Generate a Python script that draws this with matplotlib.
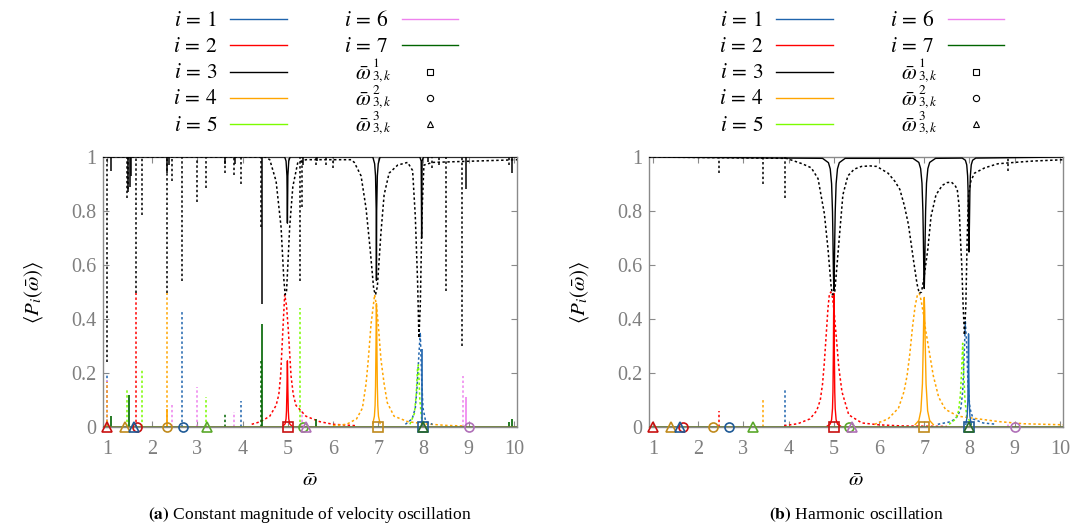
import matplotlib
matplotlib.use("Agg")
import matplotlib.pyplot as plt
from matplotlib.lines import Line2D

plt.rcParams['font.family'] = ['Liberation Serif', 'DejaVu Serif']
plt.rcParams['mathtext.fontset'] = 'stix'

W, H = 1086, 527

# mode colours, i = 1..7
MODE_COLORS = {1: '#1f64ad', 2: '#ff0000', 3: '#000000', 4: '#ffa500',
               5: '#7cfc00', 6: '#ee82ee', 7: '#006400'}
MARKER_COLORS = {1: '#1f5a96', 2: '#c81010', 4: '#c08a1c',
                 5: '#5aa82a', 6: '#b070b8', 7: '#2a6a2a'}

# analytic frequencies (same in both panels)
SQ_X = [5.0, 7.0, 8.0]
SQ_I = [2, 4, 1]
CI_X = [1.67, 2.33, 2.67, 5.33, 9.0]
CI_I = [2, 4, 1, 5, 6]
TR_X = [1.0, 1.4, 1.6, 3.2, 5.4, 8.0]
TR_I = [2, 4, 1, 5, 6, 7]

# ---------------- panel (a): constant magnitude ----------------
A_DIP3_SOLID_X = [1.08, 1.47, 1.50, 1.53, 2.32, 2.38, 3.62, 3.82, 4.43, 5.33, 5.65, 8.10, 8.94, 9.96]
A_DIP3_SOLID_Y = [0.95, 0.87, 0.89, 0.93, 0.94, 0.97, 0.975, 0.975, 0.457, 0.97, 0.985, 0.98, 0.88, 0.94]

A_DIP3_DOT_X = [1.00, 1.44, 1.47, 1.64, 1.77, 2.32, 2.43, 2.65, 2.98, 3.18, 3.60, 3.81,
                3.96, 4.40, 5.27, 5.32, 5.63, 5.85, 6.00, 8.20, 8.35, 8.50, 8.86, 9.90]
A_DIP3_DOT_Y = [0.24, 0.85, 0.88, 0.495, 0.785, 0.495, 0.91, 0.54, 0.835, 0.885, 0.94, 0.935,
                0.90, 0.74, 0.54, 0.815, 0.97, 0.97, 0.96, 0.96, 0.97, 0.505, 0.30, 0.97]

A_SOL3_X = [0.9, 4.93, 4.96, 4.98, 4.99, 5.00, 5.02, 5.05, 6.88, 6.92, 6.94, 6.955, 6.96,
            6.965, 6.98, 7.00, 7.04, 7.92, 7.95, 7.96, 7.97, 8.00, 10.1]
A_SOL3_Y = [1, 1, 0.985, 0.93, 0.755, 0.93, 0.985, 1, 1, 0.975, 0.93, 0.80, 0.543,
            0.80, 0.93, 0.975, 1, 1, 0.985, 0.70, 0.985, 1, 1]

A_DOT3_X = [0.9, 4.50, 4.60, 4.74, 4.85, 4.91, 4.94, 4.97, 5.00, 5.04, 5.11, 5.22, 5.40,
            6.40, 6.47, 6.62, 6.73, 6.82, 6.90, 6.94, 6.98, 7.06, 7.13, 7.24, 7.43, 7.65,
            7.76, 7.82, 7.87, 7.90, 7.93, 7.97, 8.01, 8.20, 10.1]
A_DOT3_Y = [1.0, 1.0, 0.99, 0.91, 0.74, 0.55, 0.49, 0.50, 0.60, 0.74, 0.89, 0.98, 0.99,
            0.99, 0.98, 0.93, 0.81, 0.66, 0.51, 0.49, 0.52, 0.72, 0.86, 0.94, 0.97, 0.98,
            0.95, 0.78, 0.54, 0.33, 0.45, 0.80, 0.97, 0.98, 0.99]

A_DOT2_X = [4.20, 4.40, 4.60, 4.74, 4.80, 4.84, 4.89, 4.93, 4.97, 5.01, 5.07, 5.12, 5.18,
            5.40, 5.70, 6.00, 6.50]
A_DOT2_Y = [0.01, 0.02, 0.04, 0.08, 0.12, 0.19, 0.36, 0.49, 0.45, 0.36, 0.19, 0.12, 0.08,
            0.04, 0.02, 0.01, 0.005]
A_SOL2_X = [4.90, 4.94, 4.96, 4.97, 4.98, 4.985, 4.99, 4.995, 5.00, 5.01, 5.02, 5.04, 5.08]
A_SOL2_Y = [0.005, 0.012, 0.03, 0.06, 0.14, 0.20, 0.245, 0.20, 0.14, 0.06, 0.03, 0.012, 0.005]

A_DOT4_X = [6.00, 6.30, 6.52, 6.65, 6.73, 6.78, 6.84, 6.92, 6.96, 7.00, 7.06, 7.13, 7.20,
            7.35, 7.65, 8.00, 8.50, 9.00]
A_DOT4_Y = [0.005, 0.01, 0.03, 0.07, 0.16, 0.25, 0.38, 0.49, 0.45, 0.38, 0.25, 0.16, 0.09,
            0.04, 0.02, 0.012, 0.006, 0.003]
A_SOL4_X = [6.88, 6.915, 6.93, 6.94, 6.95, 6.955, 6.96, 6.965, 6.97, 6.98, 6.99, 7.005, 7.04]
A_SOL4_Y = [0.013, 0.04, 0.08, 0.15, 0.30, 0.40, 0.457, 0.40, 0.30, 0.15, 0.08, 0.04, 0.013]

A_DOT1_X = [7.60, 7.75, 7.82, 7.86, 7.90, 7.93, 7.96, 7.99, 8.05, 8.20]
A_DOT1_Y = [0.01, 0.03, 0.07, 0.15, 0.27, 0.35, 0.18, 0.07, 0.02, 0.01]
A_DOT5_X = [7.70, 7.80, 7.84, 7.87, 7.89, 7.92, 7.96, 8.05]
A_DOT5_Y = [0.01, 0.05, 0.12, 0.22, 0.23, 0.10, 0.03, 0.01]

A_SPIKE_DOT_X = [1.00, 1.00, 1.00, 1.44, 1.64, 1.77, 2.32, 2.43, 2.65, 2.98, 3.18, 3.60,
                 3.81, 3.96, 4.40, 5.27, 5.32, 8.88]
A_SPIKE_DOT_Y = [0.20, 0.18, 0.165, 0.14, 0.495, 0.215, 0.495, 0.09, 0.425, 0.15, 0.11, 0.05,
                 0.055, 0.097, 0.25, 0.44, 0.06, 0.19]
A_SPIKE_DOT_I = [1, 6, 4, 5, 2, 5, 4, 6, 1, 6, 5, 7, 6, 1, 7, 5, 6, 6]

A_SPIKE_SOL_X = [1.08, 1.48, 2.33, 4.43, 5.63, 7.96, 8.94, 9.90, 9.97]
A_SPIKE_SOL_Y = [0.04, 0.12, 0.067, 0.38, 0.03, 0.29, 0.11, 0.02, 0.03]
A_SPIKE_SOL_I = [7, 7, 4, 7, 7, 1, 6, 7, 7]

# ---------------- panel (b): harmonic ----------------
B_SOL3_X = [0.9, 4.75, 4.88, 4.92, 4.95, 4.97, 4.98, 4.99, 5.00, 5.01, 5.02, 5.03, 5.05, 5.08, 5.12, 5.25,
            6.75, 6.88, 6.92, 6.95, 6.97, 6.98, 6.99, 7.00, 7.01, 7.02, 7.03, 7.05, 7.08, 7.12, 7.25,
            7.84, 7.91, 7.94, 7.96, 7.97, 7.98, 7.99, 8.00, 8.01, 8.02, 8.04, 8.07, 8.14, 10.1]
B_SOL3_Y = [1.0, 0.995, 0.979, 0.956, 0.901, 0.797, 0.698, 0.573, 0.505, 0.573, 0.698, 0.797, 0.901, 0.956, 0.979, 0.995,
            0.995, 0.98, 0.957, 0.903, 0.80, 0.703, 0.58, 0.513, 0.58, 0.703, 0.80, 0.903, 0.957, 0.98, 0.995,
            0.996, 0.988, 0.971, 0.93, 0.873, 0.756, 0.648, 0.756, 0.873, 0.93, 0.971, 0.988, 0.996, 1.0]

B_DOT3_X = [0.9, 3.95, 4.30, 4.50, 4.65, 4.79, 4.87, 4.94, 4.97, 5.02, 5.08, 5.13, 5.20, 5.31,
            5.45, 5.61, 5.80, 5.95, 6.20, 6.35, 6.46, 6.56, 6.65, 6.76, 6.84, 6.89, 6.94, 7.00,
            7.08, 7.15, 7.26, 7.40, 7.50, 7.60, 7.68, 7.73, 7.77, 7.80, 7.83, 7.86, 7.89, 7.92,
            7.95, 7.98, 8.03, 8.11, 8.34, 8.63, 9.00, 9.40, 10.1]
B_DOT3_Y = [1.0, 0.995, 0.975, 0.96, 0.92, 0.79, 0.66, 0.52, 0.49, 0.50, 0.62, 0.72, 0.86, 0.93,
            0.955, 0.965, 0.967, 0.965, 0.94, 0.91, 0.88, 0.82, 0.75, 0.62, 0.53, 0.495, 0.50, 0.56,
            0.66, 0.78, 0.86, 0.895, 0.905, 0.907, 0.895, 0.88, 0.82, 0.70, 0.60, 0.45, 0.34, 0.45,
            0.70, 0.86, 0.91, 0.94, 0.96, 0.975, 0.98, 0.985, 0.99]
B_DIP3_DOT_X = [2.45, 3.43, 3.91, 8.86]
B_DIP3_DOT_Y = [0.94, 0.90, 0.85, 0.95]

B_DOT2_X = [3.90, 4.20, 4.47, 4.62, 4.70, 4.75, 4.79, 4.83, 4.87, 4.90, 4.93, 4.97, 5.01, 5.05,
            5.11, 5.18, 5.33, 5.62, 6.00, 6.50, 7.50]
B_DOT2_Y = [0.005, 0.012, 0.03, 0.06, 0.10, 0.16, 0.24, 0.34, 0.44, 0.49, 0.50, 0.48, 0.42, 0.34,
            0.22, 0.13, 0.045, 0.015, 0.008, 0.004, 0.002]
B_SOL2_X = [4.85, 4.92, 4.95, 4.97, 4.98, 4.99, 4.995, 5.00, 5.005, 5.01, 5.02, 5.03, 5.05, 5.08, 5.15]
B_SOL2_Y = [0.003, 0.011, 0.027, 0.068, 0.13, 0.29, 0.42, 0.495, 0.42, 0.29, 0.13, 0.068, 0.027, 0.011, 0.003]

B_DOT4_X = [5.90, 6.20, 6.43, 6.55, 6.62, 6.68, 6.74, 6.80, 6.85, 6.89, 6.93, 6.98, 7.03, 7.08,
            7.14, 7.20, 7.32, 7.47, 7.75, 8.20, 8.65, 9.20, 10.1]
B_DOT4_Y = [0.01, 0.03, 0.07, 0.13, 0.19, 0.27, 0.37, 0.45, 0.49, 0.495, 0.47, 0.42, 0.36, 0.31,
            0.25, 0.19, 0.11, 0.065, 0.04, 0.03, 0.02, 0.012, 0.008]
B_SOL4_X = [6.80, 6.88, 6.925, 6.96, 6.98, 6.99, 7.00, 7.01, 7.02, 7.04, 7.075, 7.12, 7.20]
B_SOL4_Y = [0.009, 0.024, 0.06, 0.16, 0.32, 0.43, 0.48, 0.43, 0.32, 0.16, 0.06, 0.024, 0.009]

B_DOT1_X = [7.30, 7.60, 7.74, 7.81, 7.85, 7.88, 7.91, 7.94, 7.97, 8.01, 8.08, 8.30, 8.60]
B_DOT1_Y = [0.01, 0.02, 0.04, 0.07, 0.13, 0.25, 0.39, 0.30, 0.15, 0.07, 0.03, 0.015, 0.01]
B_DOT5_X = [7.55, 7.70, 7.76, 7.80, 7.83, 7.85, 7.87, 7.90, 7.94, 8.05]
B_DOT5_Y = [0.01, 0.03, 0.06, 0.12, 0.22, 0.31, 0.22, 0.10, 0.04, 0.01]
B_SOL1_X = [7.92, 7.95, 7.965, 7.975, 7.98, 7.985, 7.995, 8.01, 8.04]
B_SOL1_Y = [0.01, 0.04, 0.10, 0.22, 0.345, 0.22, 0.10, 0.04, 0.01]

B_SPIKE_DOT_X = [2.45, 3.43, 3.91, 8.86]
B_SPIKE_DOT_Y = [0.06, 0.10, 0.14, 0.02]
B_SPIKE_DOT_I = [2, 4, 1, 6]

XTICKS = [1, 2, 3, 4, 5, 6, 7, 8, 9, 10]
YTICKS = [0, 0.2, 0.4, 0.6, 0.8, 1]
YTICKLABELS = ['0', '0.2', '0.4', '0.6', '0.8', '1']

DOT = (0, (1.6, 1.6))
GREY = '#8a8a8a'


def style_axes(ax):
    ax.set_xlim(0.91, 10.07)
    ax.set_ylim(0, 1)
    ax.set_xticks(XTICKS)
    ax.set_yticks(YTICKS)
    ax.set_yticklabels(YTICKLABELS)
    for s in ax.spines.values():
        s.set_color(GREY)
        s.set_linewidth(1.0)
    ax.tick_params(direction='in', top=True, right=True, length=4.5, width=0.8,
                   color=GREY, labelcolor='#7f7f7f', labelsize=14.5)
    ax.tick_params(axis='x', pad=9)
    ax.tick_params(axis='y', pad=5)
    ax.set_xlabel(r'$\bar{\omega}$', fontsize=15)
    ax.xaxis.set_label_coords(0.5, -0.165)
    ax.set_ylabel(r'$\langle P_i(\bar{\omega})\rangle$', fontsize=15)
    ax.yaxis.set_label_coords(-0.14, 0.5)


def spikes(ax, xs, ys, modes, ls, lw):
    for x, y, m in zip(xs, ys, modes):
        ax.vlines(x, 0, y, colors=MODE_COLORS[m], linestyles=[ls], lw=lw, zorder=2)


def markers(ax):
    for xs, modes, mk in ((SQ_X, SQ_I, 's'), (CI_X, CI_I, 'o'), (TR_X, TR_I, '^')):
        for x, m in zip(xs, modes):
            ax.plot([x], [0], marker=mk, ms=6.5, mfc='none', mec=MARKER_COLORS[m],
                    mew=1.2, clip_on=False, zorder=6, ls='none')


fig = plt.figure(figsize=(W / 100, H / 100), dpi=100)
ax_a = fig.add_axes([103 / W, 1 - 427 / H, 414 / W, 270 / H])
ax_b = fig.add_axes([649 / W, 1 - 427 / H, 414 / W, 270 / H])

# panel (a)
ax = ax_a
spikes(ax, A_SPIKE_DOT_X, A_SPIKE_DOT_Y, A_SPIKE_DOT_I, DOT, 1.1)
ax.plot(A_DOT2_X, A_DOT2_Y, color=MODE_COLORS[2], ls=DOT, lw=1.1)
ax.plot(A_DOT4_X, A_DOT4_Y, color=MODE_COLORS[4], ls=DOT, lw=1.1)
ax.plot(A_DOT1_X, A_DOT1_Y, color=MODE_COLORS[1], ls=DOT, lw=1.1)
ax.plot(A_DOT5_X, A_DOT5_Y, color=MODE_COLORS[5], ls=DOT, lw=1.1)
spikes(ax, A_SPIKE_SOL_X, A_SPIKE_SOL_Y, A_SPIKE_SOL_I, '-', 1.2)
ax.plot(A_SOL2_X, A_SOL2_Y, color=MODE_COLORS[2], lw=1.0)
ax.plot(A_SOL4_X, A_SOL4_Y, color=MODE_COLORS[4], lw=1.0)
ax.vlines(A_DIP3_DOT_X, A_DIP3_DOT_Y, 1, colors='k', linestyles=[DOT], lw=1.1, zorder=3)
ax.plot(A_DOT3_X, A_DOT3_Y, color='k', ls=DOT, lw=1.1, zorder=3)
ax.vlines(A_DIP3_SOLID_X, A_DIP3_SOLID_Y, 1, colors='k', lw=1.1, zorder=3)
ax.plot(A_SOL3_X, A_SOL3_Y, color='k', lw=1.0, zorder=3)

# panel (b)
ax = ax_b
spikes(ax, B_SPIKE_DOT_X, B_SPIKE_DOT_Y, B_SPIKE_DOT_I, DOT, 1.1)
ax.plot(B_DOT2_X, B_DOT2_Y, color=MODE_COLORS[2], ls=DOT, lw=1.1)
ax.plot(B_DOT4_X, B_DOT4_Y, color=MODE_COLORS[4], ls=DOT, lw=1.1)
ax.plot(B_DOT1_X, B_DOT1_Y, color=MODE_COLORS[1], ls=DOT, lw=1.1)
ax.plot(B_DOT5_X, B_DOT5_Y, color=MODE_COLORS[5], ls=DOT, lw=1.1)
ax.plot(B_SOL2_X, B_SOL2_Y, color=MODE_COLORS[2], lw=1.0)
ax.plot(B_SOL4_X, B_SOL4_Y, color=MODE_COLORS[4], lw=1.0)
ax.plot(B_SOL1_X, B_SOL1_Y, color=MODE_COLORS[1], lw=1.0)
ax.vlines(B_DIP3_DOT_X, B_DIP3_DOT_Y, 1, colors='k', linestyles=[DOT], lw=1.1, zorder=3)
ax.plot(B_DOT3_X, B_DOT3_Y, color='k', ls=DOT, lw=1.1, zorder=3)
ax.plot(B_SOL3_X, B_SOL3_Y, color='k', lw=1.0, zorder=3)

for ax in (ax_a, ax_b):
    # all remaining modes sit on zero and overlap into one olive band
    ax.axhline(0, color='#6b7b3b', lw=2.0, zorder=4)
    markers(ax)
    style_axes(ax)

# legends (two columns above each panel)
LEG_COL1 = [r'$i\,=\,1$', r'$i\,=\,2$', r'$i\,=\,3$', r'$i\,=\,4$', r'$i\,=\,5$']
LEG_COL2 = [r'$i\,=\,6$', r'$i\,=\,7$']
LEG_OMEGA_SUP = ['1', '2', '3']
LEG_MARKERS = ['s', 'o', '^']
ROW_Y = [19, 45.3, 71.6, 98, 124.3]


def fx(px):
    return px / W


def fy(py):
    return 1 - py / H


for off in (0, 546):
    for r, (lab, mode) in enumerate(zip(LEG_COL1, [1, 2, 3, 4, 5])):
        fig.text(fx(217 + off), fy(ROW_Y[r] + 6.5), lab, ha='right', va='baseline', fontsize=15.5)
        fig.add_artist(Line2D([fx(230 + off), fx(287 + off)], [fy(ROW_Y[r])] * 2,
                              color=MODE_COLORS[mode], lw=1.0))
    for r, lab in enumerate(LEG_COL2):
        fig.text(fx(388 + off), fy(ROW_Y[r] + 6.5), lab, ha='right', va='baseline', fontsize=15.5)
        fig.add_artist(Line2D([fx(402 + off), fx(458 + off)], [fy(ROW_Y[r])] * 2,
                              color=MODE_COLORS[6 + r], lw=1.0))
    # omega-bar entries: base symbol plus a stacked superscript / subscript block
    for j, sup in enumerate(LEG_OMEGA_SUP):
        yc = ROW_Y[2 + j]
        fig.text(fx(371 + off), fy(yc + 8), r'$\bar{\omega}$', ha='right', va='baseline', fontsize=15.5)
        fig.text(fx(372 + off), fy(yc - 1.0), '$%s$\n$3,k$' % sup, ha='left', va='center',
                 multialignment='left', linespacing=0.8, fontsize=9.5)
        fig.add_artist(Line2D([fx(430 + off)], [fy(yc)], marker=LEG_MARKERS[j],
                              ms=4.5, mfc='none', mec='k', mew=0.8, ls='none'))

fig.text(fx(310), fy(515), r'$\mathbf{(a)}$ Constant magnitude of velocity oscillation',
         ha='center', va='center', fontsize=12.6)
fig.text(fx(856), fy(515), r'$\mathbf{(b)}$ Harmonic oscillation',
         ha='center', va='center', fontsize=12.6)

fig.savefig('out.png', dpi=100)
